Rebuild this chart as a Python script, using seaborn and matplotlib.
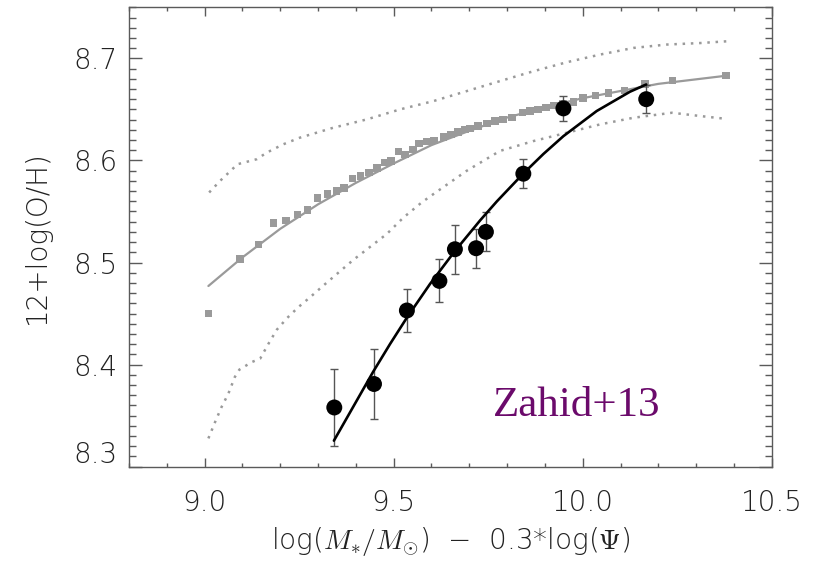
import matplotlib
matplotlib.use("Agg")
import matplotlib.pyplot as plt
import seaborn as sns
import numpy as np
import pandas as pd
from matplotlib.ticker import MultipleLocator
from matplotlib.transforms import ScaledTranslation

# Zahid+13 binned measurements (x = log M* - 0.3 log SFR)
z13_mass = [9.343, 9.448, 9.535, 9.621, 9.662, 9.718, 9.744, 9.843, 9.949, 10.168]
z13_oh = [8.358, 8.381, 8.453, 8.482, 8.513, 8.514, 8.530, 8.587, 8.651, 8.660]
z13_err = [0.0375, 0.034, 0.0215, 0.021, 0.024, 0.019, 0.019, 0.014, 0.0125, 0.0135]

# fitted relation through the Zahid+13 bins
z13_fit_mass = [9.342, 9.446, 9.4905, 9.535, 9.596, 9.661, 9.729, 9.773, 9.843,
                9.896, 9.949, 10.037, 10.125, 10.168]
z13_fit_oh = [8.3255, 8.3931, 8.4202, 8.4460, 8.4789, 8.5108, 8.5414, 8.5599, 8.5872,
              8.6063, 8.6238, 8.6484, 8.6673, 8.6744]

# model medians
sq_mass = [9.010, 9.094, 9.143, 9.182, 9.215, 9.245, 9.272, 9.298, 9.325, 9.348,
           9.369, 9.392, 9.413, 9.435, 9.456, 9.475, 9.493, 9.512, 9.530, 9.551,
           9.567, 9.588, 9.607, 9.631, 9.652, 9.670, 9.689, 9.702, 9.723, 9.747,
           9.768, 9.789, 9.813, 9.840, 9.861, 9.882, 9.903, 9.924, 9.948, 9.975,
           10.001, 10.033, 10.068, 10.110, 10.165, 10.237, 10.379]
sq_oh = [8.4500, 8.5035, 8.5175, 8.5387, 8.5409, 8.5468, 8.5514, 8.5631, 8.5670, 8.5702,
         8.5729, 8.5822, 8.5849, 8.5881, 8.5927, 8.5979, 8.5995, 8.6086, 8.6061, 8.6109,
         8.6164, 8.6184, 8.6197, 8.6229, 8.6256, 8.6278, 8.6305, 8.6314, 8.6337, 8.6363,
         8.6386, 8.6402, 8.6418, 8.6467, 8.6483, 8.6500, 8.6516, 8.6539, 8.6557, 8.6574,
         8.6613, 8.6633, 8.6662, 8.6688, 8.6750, 8.6786, 8.6832]

# smooth fit to the model medians
model_fit_mass = [9.01, 9.10, 9.20, 9.30, 9.40, 9.50, 9.60, 9.70, 9.80, 9.90, 10.00, 10.10, 10.20, 10.38]
model_fit_oh = [8.477, 8.505, 8.533, 8.557, 8.578, 8.597, 8.615, 8.629, 8.642, 8.652, 8.661, 8.668, 8.675, 8.683]

# model scatter envelope
upper_mass = [9.012, 9.041, 9.087, 9.138, 9.164, 9.208, 9.252, 9.340, 9.429, 9.517, 9.605,
              9.693, 9.781, 9.870, 9.958, 10.046, 10.134, 10.222, 10.311, 10.381]
upper_oh = [8.5686, 8.5800, 8.5963, 8.6012, 8.6076, 8.6158, 8.6223, 8.6320, 8.6402, 8.6500, 8.6581,
            8.6679, 8.6777, 8.6874, 8.6962, 8.7037, 8.7102, 8.7135, 8.7150, 8.7167]
lower_mass = [9.010, 9.028, 9.045, 9.063, 9.080, 9.092, 9.125, 9.147, 9.169, 9.191, 9.219,
              9.248, 9.279, 9.314, 9.393, 9.482, 9.526, 9.574, 9.605, 9.693, 9.781, 9.870,
              9.958, 10.046, 10.134, 10.236, 10.311, 10.368]
lower_oh = [8.3277, 8.3440, 8.3586, 8.3717, 8.3879, 8.3951, 8.4025, 8.4059, 8.4205, 8.4342, 8.4459,
            8.4563, 8.4660, 8.4774, 8.5025, 8.5280, 8.5441, 8.5588, 8.5670, 8.5898, 8.6093, 8.6190,
            8.6271, 8.6353, 8.6418, 8.6467, 8.6435, 8.6412]

x_ticks = [9.0, 9.5, 10.0, 10.5]
y_ticks = [8.3, 8.4, 8.5, 8.6, 8.7]

sns.set_theme(style="ticks")
plt.rcParams["font.family"] = ["DejaVu Sans"]
plt.rcParams["mathtext.fontset"] = "cm"

fig = plt.figure(figsize=(8.19, 5.62), dpi=100)
ax = fig.add_axes([0.1575, 0.1696, 0.7848, 0.8174])

gray = "#9a9a9a"
dots = (0, (1, 2.3))

sns.lineplot(x=upper_mass, y=upper_oh, ax=ax, color=gray, lw=1.8, linestyle=dots,
             estimator=None, sort=False)
sns.lineplot(x=lower_mass, y=lower_oh, ax=ax, color=gray, lw=1.8, linestyle=dots,
             estimator=None, sort=False)
sns.lineplot(x=model_fit_mass, y=model_fit_oh, ax=ax, color=gray, lw=1.6,
             estimator=None, sort=False)
sns.scatterplot(x=sq_mass, y=sq_oh, ax=ax, marker="s", s=28, color=gray,
                edgecolor="none", linewidth=0, zorder=3)

ax.errorbar(z13_mass, z13_oh, yerr=z13_err, fmt="none", ecolor="#555555",
            elinewidth=1.0, capsize=2.9, capthick=1.0, zorder=4)
sns.scatterplot(x=z13_mass, y=z13_oh, ax=ax, marker="o", s=132, color="black",
                edgecolor="none", linewidth=0, zorder=5)
sns.lineplot(x=z13_fit_mass, y=z13_fit_oh, ax=ax, color="black", lw=1.9,
             estimator=None, sort=False, zorder=6)

ax.text(9.763, 8.35, "Zahid+13", fontsize=31, color="#6b0a6b",
        family="Liberation Serif", va="baseline", ha="left")

ax.set_xlim(8.8, 10.5)
ax.set_ylim(8.3, 8.75)
ax.set_xticks(x_ticks)
ax.set_xticklabels([f"{v:.1f}" for v in x_ticks])
ax.set_yticks(y_ticks)
ax.set_yticklabels([f"{v:.1f}" for v in y_ticks])
ax.xaxis.set_minor_locator(MultipleLocator(0.1))
ax.yaxis.set_minor_locator(MultipleLocator(0.01))

edge = "#5a5a5a"
for sp in ax.spines.values():
    sp.set_visible(True)
    sp.set_color(edge)
    sp.set_linewidth(1.0)

ax.tick_params(axis="both", which="both", direction="in", colors=edge,
               top=True, right=True, width=1.0, labelcolor="#222222")
ax.tick_params(axis="x", which="major", length=6.7, pad=16, labelsize=20)
ax.tick_params(axis="x", which="minor", length=3.1)
ax.tick_params(axis="y", which="major", length=9.1, pad=8.5, labelsize=20)
ax.tick_params(axis="y", which="minor", length=4.8)
for lbl in ax.get_xticklabels() + ax.get_yticklabels():
    lbl.set_fontweight("light")

for lbl in ax.get_yticklabels():
    if lbl.get_text() == "8.3":
        lbl.set_transform(lbl.get_transform() + ScaledTranslation(0, 0.15, fig.dpi_scale_trans))

ax.set_xlabel(r"log($M_{*}/M_{\odot}$)  −  0.3*log($\Psi$)", fontsize=20,
              fontweight="light", color="#222222", labelpad=6)
ax.set_ylabel("12+log(O/H)", fontsize=20, fontweight="light", color="#222222",
              labelpad=16)

fig.savefig("out.png", dpi=100)
